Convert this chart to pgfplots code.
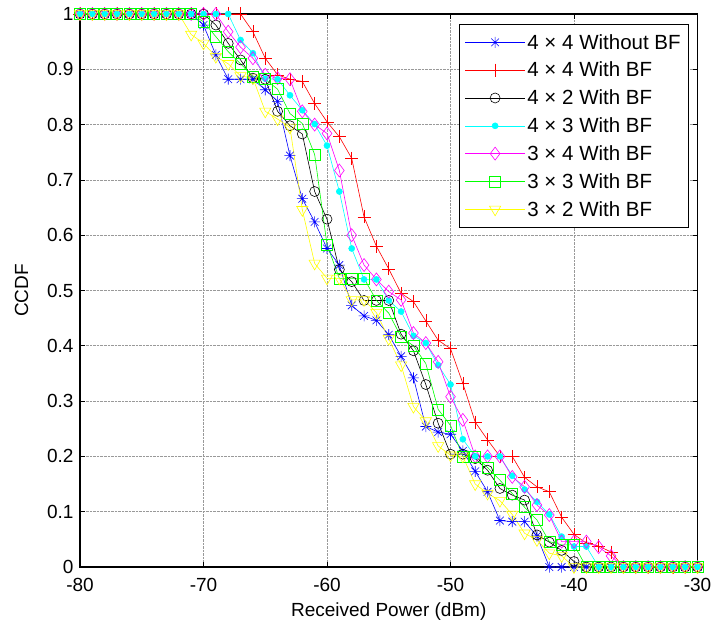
\documentclass[border=0pt]{standalone}
\usepackage{pgfplots}
\usepackage{pgfplotstable}
\pgfplotsset{compat=1.18}
\usepackage{fontspec}
\setmainfont{Liberation Sans}
\newcommand{\ff}{\fontsize{19bp}{22bp}\selectfont}
\newcommand{\lf}{\fontsize{20.5bp}{24bp}\selectfont}
\definecolor{blue}{rgb}{0,0,1}
\definecolor{red}{rgb}{1,0,0}
\definecolor{cyan}{rgb}{0,1,1}
\definecolor{magenta}{rgb}{1,0,1}
\definecolor{green}{rgb}{0,1,0}
\definecolor{yellow}{rgb}{1,1,0}
\pgfdeclareplotmark{mstar}{%
  \pgfpathmoveto{\pgfqpoint{-\pgfplotmarksize}{0pt}}\pgfpathlineto{\pgfqpoint{\pgfplotmarksize}{0pt}}%
  \pgfpathmoveto{\pgfqpoint{0pt}{-\pgfplotmarksize}}\pgfpathlineto{\pgfqpoint{0pt}{\pgfplotmarksize}}%
  \pgfpathmoveto{\pgfqpoint{-.7\pgfplotmarksize}{-.7\pgfplotmarksize}}\pgfpathlineto{\pgfqpoint{.7\pgfplotmarksize}{.7\pgfplotmarksize}}%
  \pgfpathmoveto{\pgfqpoint{-.7\pgfplotmarksize}{.7\pgfplotmarksize}}\pgfpathlineto{\pgfqpoint{.7\pgfplotmarksize}{-.7\pgfplotmarksize}}%
  \pgfusepathqstroke}

\pgfplotstableread{
x b r k c m g y
-80 1 1 1 1 1 1 1
-79 1 1 1 1 1 1 1
-78 1 1 1 1 1 1 1
-77 1 1 1 1 1 1 1
-76 1 1 1 1 1 1 1
-75 1 1 1 1 1 1 1
-74 1 1 1 1 1 1 1
-73 1 1 1 1 1 1 1
-72 1 1 1 1 1 1 1
-71 1 1 1 1 1 1 0.963
-70 0.98 1 1 1 1 0.986 0.947
-69 0.926 1 0.98 1 1 0.959 0.923
-68 0.882 1 0.947 1 0.968 0.932 0.91
-67 0.882 1 0.917 0.953 0.94 0.91 0.888
-66 0.882 0.968 0.884 0.929 0.92 0.887 0.884
-65 0.863 0.92 0.882 0.883 0.89 0.882 0.824
-64 0.842 0.89 0.824 0.882 0.884 0.864 0.81
-63 0.744 0.882 0.798 0.853 0.882 0.82 0.795
-62 0.666 0.878 0.783 0.826 0.824 0.802 0.646
-61 0.624 0.838 0.679 0.801 0.8 0.746 0.549
-60 0.576 0.805 0.629 0.762 0.784 0.583 0.522
-59 0.546 0.778 0.538 0.679 0.717 0.522 0.522
-58 0.473 0.739 0.516 0.576 0.6 0.522 0.483
-57 0.454 0.633 0.482 0.52 0.546 0.522 0.483
-56 0.446 0.58 0.482 0.52 0.52 0.482 0.46
-55 0.42 0.539 0.482 0.482 0.498 0.459 0.413
-54 0.381 0.495 0.421 0.462 0.483 0.416 0.365
-53 0.342 0.48 0.391 0.418 0.423 0.4 0.29
-52 0.254 0.445 0.33 0.405 0.405 0.368 0.264
-51 0.244 0.41 0.26 0.365 0.371 0.285 0.219
-50 0.24 0.395 0.204 0.33 0.308 0.256 0.202
-49 0.21 0.332 0.204 0.231 0.266 0.2 0.2
-48 0.173 0.262 0.196 0.2 0.2 0.2 0.15
-47 0.136 0.23 0.175 0.2 0.2 0.18 0.133
-46 0.084 0.2 0.142 0.2 0.2 0.157 0.12
-45 0.082 0.2 0.13 0.165 0.163 0.133 0.095
-44 0.082 0.162 0.121 0.14 0.145 0.108 0.061
-43 0.056 0.145 0.058 0.118 0.112 0.085 0.049
-42 0 0.136 0.045 0.095 0.094 0.046 0.025
-41 0 0.09 0.03 0.055 0.046 0.04 0.02
-40 0 0.059 0.01 0.037 0.046 0.04 0
-39 0 0.043 0 0.037 0.046 0 0
-38 0 0.038 0 0 0.036 0 0
-37 0 0.027 0 0 0.02 0 0
-36 0 0 0 0 0 0 0
-35 0 0 0 0 0 0 0
-34 0 0 0 0 0 0 0
-33 0 0 0 0 0 0 0
-32 0 0 0 0 0 0 0
-31 0 0 0 0 0 0 0
-30 0 0 0 0 0 0 0
}\data

\begin{document}
\begin{tikzpicture}
\begin{axis}[
  scale only axis,
  width=617.5bp, height=553bp,
  xmin=-80, xmax=-30, ymin=0, ymax=1,
  xtick={-80,-70,...,-30},
  ytick={0,0.1,...,1.0},
  yticklabels={0,0.1,0.2,0.3,0.4,0.5,0.6,0.7,0.8,0.9,1},
  /pgf/number format/assume math mode=true,
  tick label style={font=\ff},
  xticklabel style={yshift=-8bp},
  yticklabel style={xshift=-3bp},
  label style={font=\ff},
  xlabel={Received Power (dBm)},
  ylabel={CCDF},
  xlabel style={yshift=-4bp},
  ylabel style={yshift=12bp},
  grid=major,
  grid style={densely dotted, gray!80, line width=0.6bp},
  axis line style={line width=1.1bp},
  tick align=inside,
  tick pos=both,
  major tick length=5bp,
  every tick/.style={black, line width=0.6bp},
  legend cell align=left,
  legend style={at={(rel axis cs:0.986,0.982)}, anchor=north east,
    font=\lf, fill=white,
    inner xsep=6bp, inner ysep=8bp, row sep=7.5bp,
    /tikz/every even column/.append style={column sep=4bp}},
  legend image code/.code={\draw[mark repeat=2,mark phase=2] plot coordinates {(0bp,0bp) (30bp,0bp) (60bp,0bp)};},
  every axis plot/.append style={line width=0.6bp},
]
\addplot[blue, mark=mstar, mark size=5.5bp] table[x=x,y=b] {\data};
\addlegendentry{4 × 4 Without BF}
\addplot[red, mark=+, mark size=6.5bp] table[x=x,y=r] {\data};
\addlegendentry{4 × 4 With BF}
\addplot[black, mark=o, mark size=5bp] table[x=x,y=k] {\data};
\addlegendentry{4 × 2 With BF}
\addplot[cyan, mark=*, mark size=3bp, mark options={fill=cyan}] table[x=x,y=c] {\data};
\addlegendentry{4 × 3 With BF}
\addplot[magenta, mark=diamond, mark size=6.5bp] table[x=x,y=m] {\data};
\addlegendentry{3 × 4 With BF}
\addplot[green, mark=square, mark size=5.5bp] table[x=x,y=g] {\data};
\addlegendentry{3 × 3 With BF}
\addplot[yellow, mark=triangle, mark size=6.5bp, mark options={rotate=180}] table[x=x,y=y] {\data};
\addlegendentry{3 × 2 With BF}
\end{axis}
\pgfresetboundingbox
\path ([shift={(-80bp,-61bp)}]current axis.south west) rectangle ([shift={(14.5bp,14bp)}]current axis.north east);
\end{tikzpicture}
\end{document}
